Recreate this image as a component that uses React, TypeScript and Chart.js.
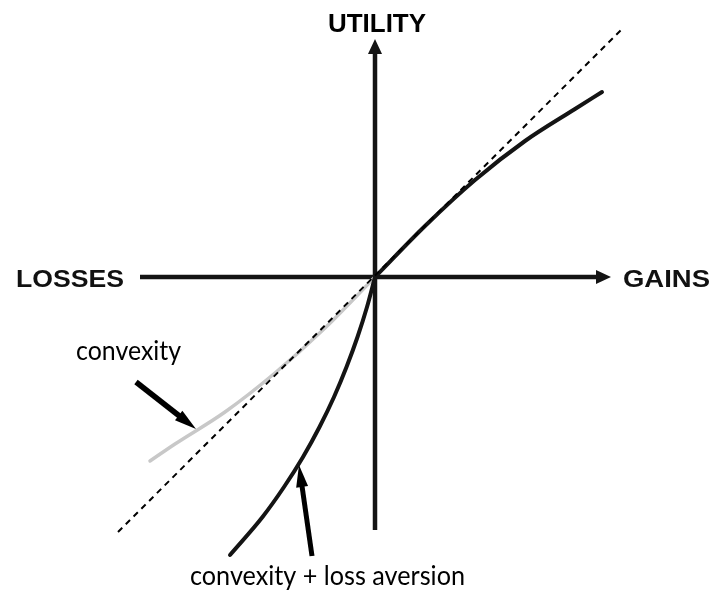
import React, { useEffect, useRef } from "react";
import { Chart, registerables } from "chart.js";

Chart.register(...registerables);

// ---- data (origin = (0,0); units: arbitrary utility / outcome) ----
const gainsX = [0, 0.5, 1.0, 1.5, 2.0, 2.27];
const gainsY = [0, 0.51, 0.97, 1.36, 1.68, 1.85];

const lossX = [-1.45, -1.125, -0.91, -0.72, -0.555, -0.41, -0.285, -0.175, -0.08, 0];
const lossY = [-2.78, -2.4, -2.1, -1.8, -1.5, -1.2, -0.9, -0.6, -0.3, 0];

const convexX = [-2.25, -2.0, -1.5, -1.0, -0.5, 0];
const convexY = [-1.84, -1.67, -1.35, -0.96, -0.51, 0];

const refX = [-2.57, 2.49];
const refY = [-2.55, 2.5];

const hAxisX = [-2.35, 2.36];
const hAxisY = [0, 0];
const vAxisX = [0, 0];
const vAxisY = [-2.53, 2.38];

const arrowConvexX = [-2.39, -1.79];
const arrowConvexY = [-1.05, -1.52];
const arrowLossX = [-0.63, -0.76];
const arrowLossY = [-2.79, -1.88];

const axisLabels = ["UTILITY", "LOSSES", "GAINS"];
const curveLabels = ["convexity", "convexity + loss aversion"];

const pts = (xs: number[], ys: number[]) => xs.map((x, i) => ({ x, y: ys[i] }));

const arrowPlugin = {
  id: "arrowHeads",
  beforeDatasetDraw(chart: any, args: any) {
    const ds = chart.data.datasets[args.index];
    if (!ds.arrowHead) return;
    const els = args.meta.data;
    const a = els[els.length - 2];
    const b = els[els.length - 1];
    const dx = b.x - a.x, dy = b.y - a.y;
    const len = Math.hypot(dx, dy);
    const ux = dx / len, uy = dy / len;
    const nx = -uy, ny = ux;
    const L = ds.arrowHead.length - 3;
    const bx = b.x - ux * L, by = b.y - uy * L;
    const R = 3000;
    const ctx = chart.ctx;
    ctx.save();
    ctx.beginPath();
    ctx.rect(0, 0, chart.width, chart.height);
    ctx.moveTo(bx + nx * R, by + ny * R);
    ctx.lineTo(bx + nx * R + ux * R, by + ny * R + uy * R);
    ctx.lineTo(bx - nx * R + ux * R, by - ny * R + uy * R);
    ctx.lineTo(bx - nx * R, by - ny * R);
    ctx.closePath();
    ctx.clip("evenodd");
  },
  afterDatasetDraw(chart: any, args: any) {
    const ds = chart.data.datasets[args.index];
    if (!ds.arrowHead) return;
    const ctx = chart.ctx;
    ctx.restore();
    const els = args.meta.data;
    const a = els[els.length - 2];
    const b = els[els.length - 1];
    const dx = b.x - a.x, dy = b.y - a.y;
    const len = Math.hypot(dx, dy);
    const ux = dx / len, uy = dy / len;
    const nx = -uy, ny = ux;
    const L = ds.arrowHead.length, W = ds.arrowHead.width;
    const bx = b.x - ux * L, by = b.y - uy * L;
    ctx.save();
    ctx.fillStyle = ds.borderColor;
    ctx.beginPath();
    ctx.moveTo(b.x, b.y);
    ctx.lineTo(bx + nx * W, by + ny * W);
    ctx.lineTo(bx - nx * W, by - ny * W);
    ctx.closePath();
    ctx.fill();
    ctx.restore();
  },
};

function fitText(ctx: CanvasRenderingContext2D, text: string, x: number, y: number, font: string, width: number, color: string) {
  ctx.save();
  ctx.font = font;
  const w = ctx.measureText(text).width;
  ctx.translate(x, y);
  ctx.scale(width / w, 1);
  ctx.fillStyle = color;
  ctx.textAlign = "left";
  ctx.textBaseline = "alphabetic";
  ctx.fillText(text, 0, 0);
  ctx.restore();
}

const labelPlugin = {
  id: "labels",
  afterDraw(chart: any) {
    const ctx = chart.ctx;
    const sx = chart.scales.x, sy = chart.scales.y;
    const px = (v: number) => sx.getPixelForValue(v);
    const py = (v: number) => sy.getPixelForValue(v);
    const bold = "bold 26px 'Liberation Sans', Arial, sans-serif";
    const bold2 = "bold 23px 'Liberation Sans', Arial, sans-serif";
    const reg = "27px Lato, 'Open Sans', sans-serif";
    fitText(ctx, axisLabels[0], px(-0.47), py(2.45), bold, 98, "#000");
    fitText(ctx, axisLabels[1], px(-3.59), py(-0.1), bold2, 108, "#111");
    fitText(ctx, axisLabels[2], px(2.48), py(-0.1), bold2, 87, "#111");
    fitText(ctx, curveLabels[0], px(-2.99), py(-0.83), reg, 105, "#000");
    fitText(ctx, curveLabels[1], px(-1.85), py(-3.08), reg, 275, "#000");
  },
};

export default function App() {
  const ref = useRef<HTMLCanvasElement>(null);
  useEffect(() => {
    const black = "#141414";
    const chart = new Chart(ref.current!, {
      type: "scatter",
      data: {
        datasets: [
          { data: pts(arrowConvexX, arrowConvexY), borderColor: "#000", borderWidth: 5.5, arrowHead: { length: 22, width: 6 } } as any,
          { data: pts(arrowLossX, arrowLossY), borderColor: "#000", borderWidth: 5, arrowHead: { length: 22, width: 6 } } as any,
          { data: pts(refX, refY), borderColor: "#000", borderWidth: 2, borderDash: [6, 5] },
          { data: pts(gainsX, gainsY), borderColor: black, borderWidth: 4, cubicInterpolationMode: "monotone", borderCapStyle: "round" },
          { data: pts(lossX, lossY), borderColor: black, borderWidth: 4, cubicInterpolationMode: "monotone", borderCapStyle: "round" },
          { data: pts(convexX, convexY), borderColor: "#c8c8c8", borderWidth: 3.5, cubicInterpolationMode: "monotone", borderCapStyle: "round" },
          { data: pts(hAxisX, hAxisY), borderColor: black, borderWidth: 4.5, arrowHead: { length: 15, width: 7 } } as any,
          { data: pts(vAxisX, vAxisY), borderColor: black, borderWidth: 4.5, arrowHead: { length: 15, width: 7 } } as any,
        ].map((d: any) => ({ showLine: true, pointRadius: 0, pointHoverRadius: 0, borderJoinStyle: "round", ...d })),
      },
      options: {
        responsive: false,
        maintainAspectRatio: false,
        animation: false,
        events: [],
        layout: { padding: 0 },
        scales: {
          x: { type: "linear", min: -3.75, max: 3.38, display: false },
          y: { type: "linear", min: -3.15, max: 2.77, display: false },
        },
        plugins: { legend: { display: false }, tooltip: { enabled: false } },
      },
      plugins: [arrowPlugin, labelPlugin],
    } as any);
    return () => chart.destroy();
  }, []);
  return (
    <div style={{ position: "fixed", left: 0, top: 0, width: 713, height: 592, background: "#fff" }}>
      <canvas ref={ref} width={713} height={592} style={{ display: "block" }} />
    </div>
  );
}
